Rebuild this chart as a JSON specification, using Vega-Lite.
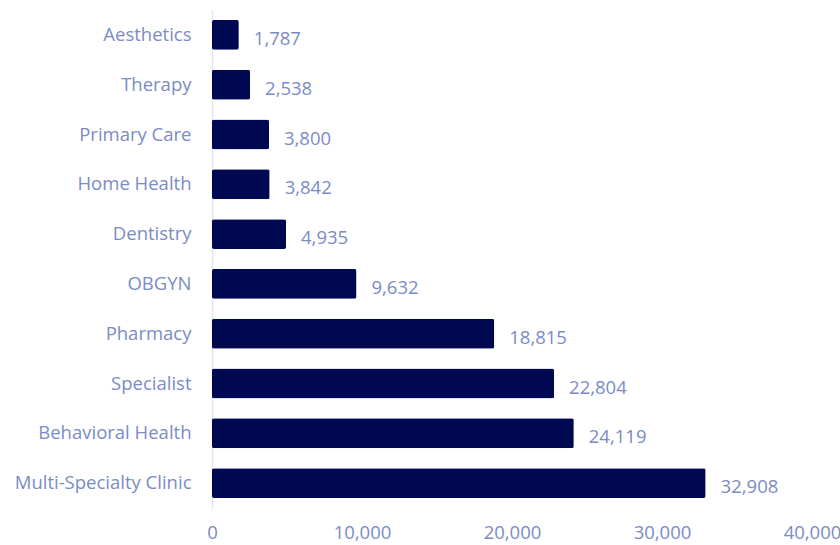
{
  "$schema": "https://vega.github.io/schema/vega-lite/v6.json",
  "width": 600,
  "height": 498,
  "autosize": {"type": "none"},
  "padding": {"left": 212, "top": 10, "right": 28, "bottom": 37},
  "background": "white",
  "config": {
    "view": {"stroke": null},
    "font": "Open Sans",
    "axis": {"labelFont": "Open Sans", "labelColor": "#7b8bc6", "labelFontSize": 18.5}
  },
  "data": {
    "values": [
      {"category": "Aesthetics", "value": 1787},
      {"category": "Therapy", "value": 2538},
      {"category": "Primary Care", "value": 3800},
      {"category": "Home Health", "value": 3842},
      {"category": "Dentistry", "value": 4935},
      {"category": "OBGYN", "value": 9632},
      {"category": "Pharmacy", "value": 18815},
      {"category": "Specialist", "value": 22804},
      {"category": "Behavioral Health", "value": 24119},
      {"category": "Multi-Specialty Clinic", "value": 32908}
    ]
  },
  "encoding": {
    "y": {
      "field": "category", "type": "nominal", "sort": null,
      "scale": {"paddingInner": 0.4, "paddingOuter": 0.2},
      "axis": {"title": null, "ticks": false, "domain": true, "domainColor": "#e3e6ef", "domainWidth": 1.5, "labelPadding": 21}
    },
    "x": {
      "field": "value", "type": "quantitative",
      "scale": {"domain": [0, 40000], "nice": false},
      "axis": {"title": null, "values": [0, 10000, 20000, 30000, 40000], "labelExpr": "format(datum.value, ',')", "labelFlush": false, "grid": false, "domain": false, "ticks": false, "labelPadding": 15}
    }
  },
  "layer": [
    {"mark": {"type": "bar", "color": "#000852", "cornerRadius": 2}},
    {
      "mark": {"type": "text", "align": "left", "baseline": "middle", "dx": 15, "dy": 4, "fontSize": 18.5, "color": "#7b8bc6", "font": "Open Sans"},
      "encoding": {"text": {"field": "value", "type": "quantitative", "format": ","}}
    }
  ]
}
